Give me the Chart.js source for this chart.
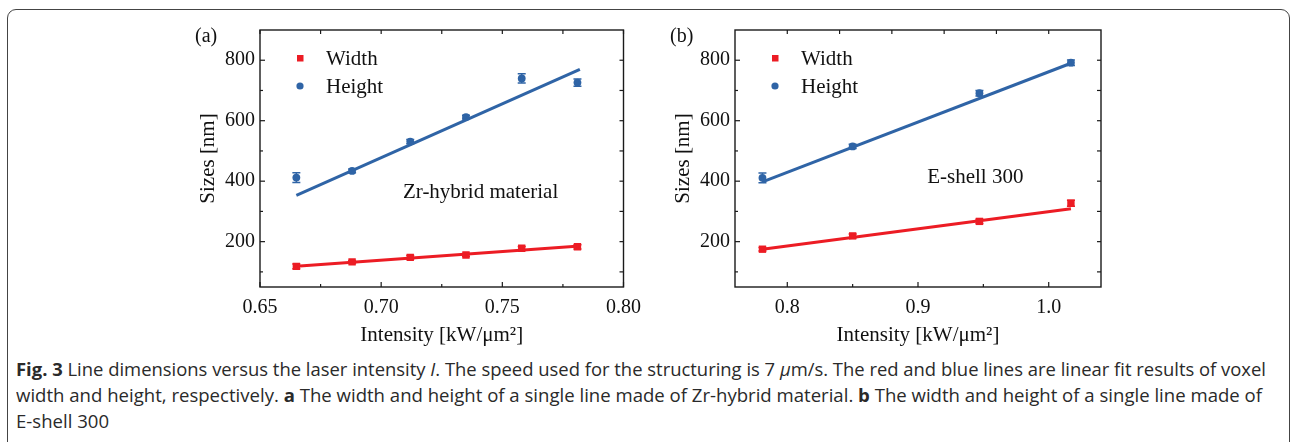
<!DOCTYPE html>
<html><head><meta charset="utf-8">
<script src="https://cdn.jsdelivr.net/npm/chart.js@4/dist/chart.umd.min.js"></script>
<style>
html,body{margin:0;padding:0;background:#fff;width:1292px;height:442px;overflow:hidden;}
body{position:relative;}
#frame{position:absolute;left:7px;top:9px;width:1283px;height:470px;border:1.5px solid #444;border-radius:9px;box-sizing:border-box;}
.cv{position:absolute;top:10px;width:460px;height:340px;}
#ca{left:190px} #cb{left:665px}
.plab{position:absolute;top:25px;font-family:'Liberation Serif';font-size:20px;line-height:20px;color:#111;}
.cap{position:absolute;left:16px;font-family:'Open Sans';font-size:18px;line-height:26px;white-space:nowrap;transform-origin:0 50%;color:#2a2a2a;display:inline-block;}
</style></head><body>
<div id="frame"></div>
<canvas id="ca" class="cv" width="460" height="340"></canvas>
<canvas id="cb" class="cv" width="460" height="340"></canvas>
<div class="plab" style="left:195px">(a)</div>
<div class="plab" style="left:670px">(b)</div>
<div class="cap" id="l1" style="top:356px"><b>Fig. 3</b> Line dimensions versus the laser intensity <i>I</i>. The speed used for the structuring is 7 <i>μ</i>m/s. The red and blue lines are linear fit results of voxel</div>
<div class="cap" id="l2" style="top:382px">width and height, respectively. <b>a</b> The width and height of a single line made of Zr-hybrid material. <b>b</b> The width and height of a single line made of</div>
<div class="cap" id="l3" style="top:408px">E-shell 300</div>
<script>
// ---- data ----
const intensityA = [0.665, 0.688, 0.712, 0.735, 0.758, 0.781];
const widthA     = [118, 133, 148, 156, 178, 183];
const widthErrA  = [8, 5, 6, 5, 6, 7];
const heightA    = [412, 434, 531, 612, 740, 726];
const heightErrA = [16, 6, 7, 6, 15, 12];
const fitXA      = [0.665, 0.782];
const widthFitA  = [119, 186];
const heightFitA = [353, 770];

const intensityB = [0.781, 0.850, 0.947, 1.017];
const widthB     = [175, 219, 267, 327];
const widthErrB  = [6, 6, 7, 10];
const heightB    = [411, 515, 691, 792];
const heightErrB = [16, 7, 9, 9];
const fitXB      = [0.781, 1.017];
const widthFitB  = [175, 309];
const heightFitB = [398, 790];

const yRange = [50, 900];
const yMajorTicks = [200, 400, 600, 800];
const yMinorTicks = [100, 300, 500, 700];
const xRangeA = [0.65, 0.80];
const xMajorTicksA = [0.65, 0.70, 0.75, 0.80];
const xMinorTicksA = [0.675, 0.725, 0.775];
const xTopTicksA = [0.65, 0.675, 0.70, 0.725, 0.75, 0.775, 0.80];
const xRangeB = [0.76, 1.04];
const xMajorTicksB = [0.8, 0.9, 1.0];
const xMinorTicksB = [0.85, 0.95];
const xTopTicksB = [0.80, 0.84, 0.88, 0.92, 0.96, 1.00];

const seriesNames = ['Width', 'Height'];
const xTitle = 'Intensity [kW/μm²]';
const yTitle = 'Sizes [nm]';
const noteA = {text: 'Zr-hybrid material', x: 0.709, y: 362};
const noteB = {text: 'E-shell 300', x: 0.907, y: 412};

const RED = '#ec1c24';
const BLUE = '#2f64a6';
const SERIF = "'Liberation Serif', 'DejaVu Serif', serif";

function pts(xs, ys){ return xs.map((x,i)=>({x:x, y:ys[i]})); }

const framePlugin = {
  id: 'frameTicks',
  afterDraw(chart, args, opts) {
    const {ctx, chartArea: a, scales:{x, y}} = chart;
    ctx.save();
    ctx.strokeStyle = '#1a1a1a';
    ctx.lineWidth = 1.4;
    ctx.strokeRect(a.left, a.top, a.right - a.left, a.bottom - a.top);
    ctx.lineWidth = 1.2;
    const line = (x1,y1,x2,y2)=>{ctx.beginPath();ctx.moveTo(x1,y1);ctx.lineTo(x2,y2);ctx.stroke();};
    yMajorTicks.concat(yMinorTicks).forEach(v=>{
      const L = yMajorTicks.includes(v) ? 5 : 3;
      const py = y.getPixelForValue(v);
      line(a.left, py, a.left + L, py);
      line(a.right, py, a.right - 4, py);
    });
    opts.major.concat(opts.minor).forEach(v=>{
      const L = opts.major.includes(v) ? 5 : 3;
      const px = x.getPixelForValue(v);
      line(px, a.bottom, px, a.bottom - L);
    });
    opts.top.forEach(v=>{
      const px = x.getPixelForValue(v);
      line(px, a.top, px, a.top + 4);
    });
    ctx.restore();
  }
};

const errorPlugin = {
  id: 'errBars',
  afterDatasetsDraw(chart) {
    const {ctx, scales:{x, y}} = chart;
    ctx.save();
    chart.data.datasets.forEach(ds=>{
      if (!ds.errors) return;
      ctx.strokeStyle = ds.backgroundColor;
      ctx.lineWidth = 1.5;
      ds.data.forEach((p,i)=>{
        const px = x.getPixelForValue(p.x);
        const y1 = y.getPixelForValue(p.y - ds.errors[i]);
        const y2 = y.getPixelForValue(p.y + ds.errors[i]);
        ctx.beginPath();
        ctx.moveTo(px, y1); ctx.lineTo(px, y2);
        ctx.moveTo(px-4, y1); ctx.lineTo(px+4, y1);
        ctx.moveTo(px-4, y2); ctx.lineTo(px+4, y2);
        ctx.stroke();
      });
    });
    ctx.restore();
  }
};

const legendPlugin = {
  id: 'innerLegend',
  afterDraw(chart, args, opts) {
    const {ctx, chartArea: a, scales:{x, y}} = chart;
    ctx.save();
    ctx.font = '21px ' + SERIF;
    ctx.fillStyle = '#111';
    ctx.textBaseline = 'middle';
    ctx.textAlign = 'left';
    const mx = a.left + 40, tx = a.left + 66;
    const y1 = a.top + 28, y2 = a.top + 56;
    ctx.fillStyle = RED;
    ctx.fillRect(mx - 3, y1 - 3, 6.5, 6.5);
    ctx.fillStyle = BLUE;
    ctx.beginPath(); ctx.arc(mx, y2, 3.6, 0, Math.PI*2); ctx.fill();
    ctx.fillStyle = '#111';
    ctx.fillText(seriesNames[0], tx, y1 + 1);
    ctx.fillText(seriesNames[1], tx, y2 + 1);
    // annotation
    ctx.fillText(opts.note.text, x.getPixelForValue(opts.note.x), y.getPixelForValue(opts.note.y));
    ctx.restore();
  }
};

function makeChart(id, xs, w, we, h, he, fx, wf, hf, xr, xmaj, xmin, xtop, dec, note) {
  return new Chart(document.getElementById(id), {
    data: {
      datasets: [
        {type:'scatter', label: seriesNames[0], data: pts(xs, w), errors: we, pointStyle:'rect', pointRadius:5.2, backgroundColor:RED, borderWidth:0, order:0},
        {type:'scatter', label: seriesNames[1], data: pts(xs, h), errors: he, pointStyle:'circle', pointRadius:3.9, backgroundColor:BLUE, borderWidth:0, order:0},
        {type:'line', data: pts(fx, wf), borderColor:RED, borderWidth:3, pointRadius:0, fill:false, order:1},
        {type:'line', data: pts(fx, hf), borderColor:BLUE, borderWidth:3, pointRadius:0, fill:false, order:1}
      ]
    },
    options: {
      responsive:false, animation:false, devicePixelRatio:1,
      layout:{padding:{top:20, right:24, left:0, bottom:0}},
      plugins:{legend:{display:false}, tooltip:{enabled:false},
        frameTicks:{major:xmaj, minor:xmin, top:xtop}, innerLegend:{note:note}},
      scales:{
        x:{type:'linear', min:xr[0], max:xr[1],
          afterBuildTicks: s=>{ s.ticks = xmaj.map(v=>({value:v})); },
          afterFit: s=>{ s.height = 63; },
          grid:{display:false, drawTicks:false}, border:{display:false},
          ticks:{callback:v=>Number(v).toFixed(dec), font:{family:SERIF, size:20}, color:'#111', padding:9, maxRotation:0, autoSkip:false},
          title:{display:true, text:xTitle, font:{family:SERIF, size:21, lineHeight:1.2}, color:'#111', padding:{top:0,bottom:2}}
        },
        y:{type:'linear', min:yRange[0], max:yRange[1],
          afterBuildTicks: s=>{ s.ticks = yMajorTicks.map(v=>({value:v})); },
          afterFit: s=>{ s.width = 70; },
          grid:{display:false, drawTicks:false}, border:{display:false},
          ticks:{font:{family:SERIF, size:20}, color:'#111', padding:5, autoSkip:false},
          title:{display:true, text:yTitle, font:{family:SERIF, size:21, lineHeight:1.2}, color:'#111', padding:{top:6,bottom:0}}
        }
      }
    },
    plugins:[framePlugin, errorPlugin, legendPlugin]
  });
}

makeChart('ca', intensityA, widthA, widthErrA, heightA, heightErrA, fitXA, widthFitA, heightFitA,
  xRangeA, xMajorTicksA, xMinorTicksA, xTopTicksA, 2, noteA);
makeChart('cb', intensityB, widthB, widthErrB, heightB, heightErrB, fitXB, widthFitB, heightFitB,
  xRangeB, xMajorTicksB, xMinorTicksB, xTopTicksB, 1, noteB);

// fit caption lines to the reference widths
function fitCaption(){
  const l1 = document.getElementById('l1'), l2 = document.getElementById('l2'), l3 = document.getElementById('l3');
  const s1 = 1250 / l1.getBoundingClientRect().width;
  const s2 = 1246 / l2.getBoundingClientRect().width;
  l1.style.transform = 'scaleX(' + s1 + ')';
  l2.style.transform = 'scaleX(' + s2 + ')';
  l3.style.transform = 'scaleX(' + s2 + ')';
}
fitCaption();
</script>
</body></html>
